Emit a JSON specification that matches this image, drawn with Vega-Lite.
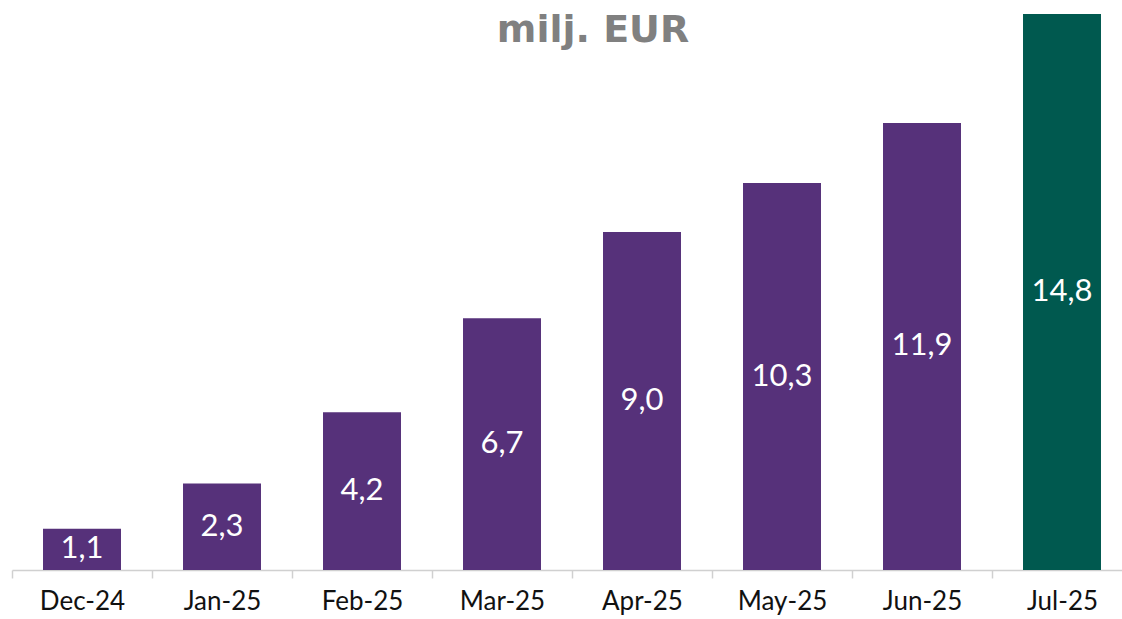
{
  "$schema": "https://vega.github.io/schema/vega-lite/v6.json",
  "autosize": {"type": "none"},
  "padding": {"left": 12, "top": 14, "right": 0, "bottom": 49},
  "width": 1120,
  "height": 556,
  "background": "white",
  "title": {
    "text": "milj. EUR",
    "font": "DejaVu Sans",
    "fontSize": 38,
    "fontWeight": "bold",
    "color": "#808080",
    "anchor": "middle",
    "frame": "group",
    "baseline": "alphabetic",
    "offset": -40,
    "dy": 26,
    "dx": 21
  },
  "data": {
    "values": [
      {"month": "Dec-24", "value": 1.1, "label": "1,1", "latest": "no"},
      {"month": "Jan-25", "value": 2.3, "label": "2,3", "latest": "no"},
      {"month": "Feb-25", "value": 4.2, "label": "4,2", "latest": "no"},
      {"month": "Mar-25", "value": 6.7, "label": "6,7", "latest": "no"},
      {"month": "Apr-25", "value": 9.0, "label": "9,0", "latest": "no"},
      {"month": "May-25", "value": 10.3, "label": "10,3", "latest": "no"},
      {"month": "Jun-25", "value": 11.9, "label": "11,9", "latest": "no"},
      {"month": "Jul-25", "value": 14.8, "label": "14,8", "latest": "yes"}
    ]
  },
  "encoding": {
    "x": {
      "field": "month",
      "type": "nominal",
      "sort": null,
      "scale": {"paddingInner": 0, "paddingOuter": 0},
      "axis": {
        "title": null,
        "labelAngle": 0,
        "labelFont": "Lato",
        "labelFontSize": 26,
        "labelColor": "#111111",
        "labelPadding": 10,
        "labelBaseline": "top",
        "tickBand": "extent",
        "tickSize": 8,
        "tickColor": "#d0d0d0",
        "tickWidth": 1.5,
        "domainColor": "#d0d0d0",
        "domainWidth": 1.5,
        "grid": false
      }
    },
    "y": {
      "field": "value",
      "type": "quantitative",
      "scale": {"domain": [0, 14.8], "nice": false, "zero": true},
      "axis": null
    }
  },
  "layer": [
    {
      "mark": {"type": "bar", "width": {"band": 0.557}},
      "encoding": {
        "color": {
          "field": "latest",
          "type": "nominal",
          "scale": {"domain": ["no", "yes"], "range": ["#56317a", "#00594f"]},
          "legend": null
        }
      }
    },
    {
      "transform": [{"calculate": "datum.value / 2", "as": "mid"}],
      "mark": {"type": "text", "font": "Lato", "fontSize": 31, "color": "white", "baseline": "middle", "align": "center"},
      "encoding": {
        "y": {"field": "mid", "type": "quantitative"},
        "text": {"field": "label"}
      }
    }
  ],
  "config": {"view": {"stroke": null}}
}
